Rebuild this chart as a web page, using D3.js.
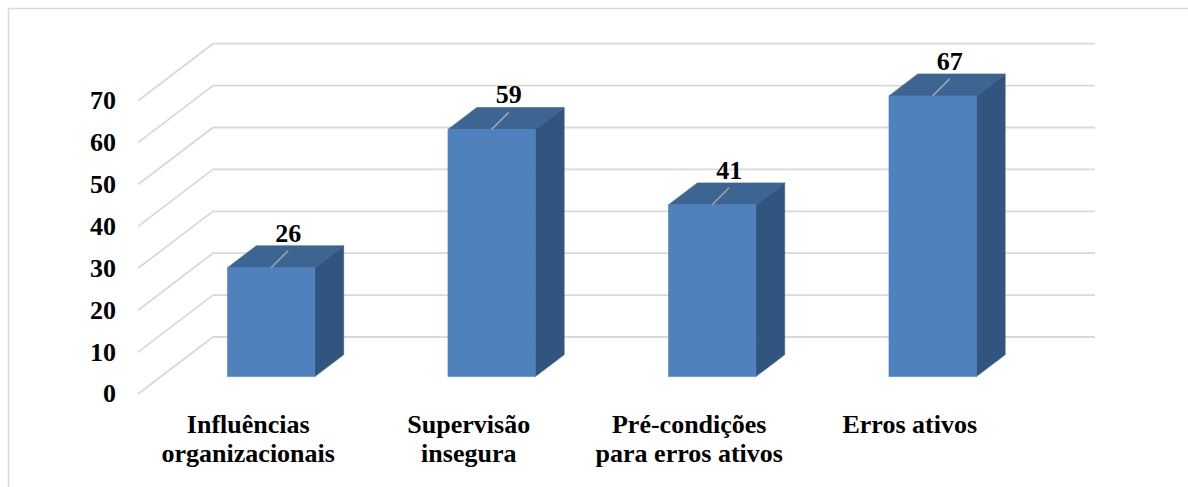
<!DOCTYPE html>
<html>
<head>
<meta charset="utf-8">
<script src="https://cdnjs.cloudflare.com/ajax/libs/d3/7.8.5/d3.min.js"></script>
<style>
  body { margin: 0; background: #fff; }
  text { font-family: "Liberation Serif", "Times New Roman", serif; font-weight: bold; fill: #000; }
</style>
</head>
<body>
<script>
// data
var categories = [["Influências", "organizacionais"], ["Supervisão", "insegura"], ["Pré-condições", "para erros ativos"], ["Erros ativos"]];
var values = [26, 59, 41, 67];
var yTicks = [0, 10, 20, 30, 40, 50, 60, 70];

var width = 1188, height = 487;

// depth offset of the 3D box (back wall vs. front edge)
var depthX = 75, depthY = -57;
var barZ0 = 0.305, barZ1 = 0.69;

var svg = d3.select("body").append("svg")
    .attr("width", width)
    .attr("height", height);

// outer frame
svg.append("rect")
    .attr("x", 8.5).attr("y", 8.5)
    .attr("width", width + 20).attr("height", height + 20)
    .attr("fill", "none")
    .attr("stroke", "#d9d9d9")
    .attr("stroke-width", 1.5);

var keys = categories.map(function(d) { return d.join(" "); });

var x = d3.scaleBand()
    .domain(keys)
    .range([138, 1020]);

var y = d3.scaleLinear()
    .domain([0, 70])
    .range([394, 100.7]);

function proj(px, v, z) {
    return [px + z * depthX, y(v) + z * depthY];
}

// gridlines: diagonal on the side wall, then along the back wall
var grid = svg.append("g");
yTicks.forEach(function(t) {
    var a = proj(x.range()[0], t, 0),
        b = proj(x.range()[0], t, 1),
        c = proj(x.range()[1], t, 1);
    grid.append("polyline")
        .attr("points", [a, b, c].map(function(p) { return p.join(","); }).join(" "))
        .attr("fill", "none")
        .attr("stroke", "#d9d9d9")
        .attr("stroke-width", 1.8);
});

// y axis labels
svg.append("g").selectAll("text")
    .data(yTicks)
    .enter().append("text")
    .attr("x", 116)
    .attr("y", function(d) { return y(d) + 2.5; })
    .attr("text-anchor", "end")
    .attr("dominant-baseline", "middle")
    .style("font-size", "26px")
    .text(function(d) { return d; });

// bars
var bw = x.bandwidth() * 0.396;
var bars = svg.append("g");
values.forEach(function(v, i) {
    var cx = x(keys[i]) + x.bandwidth() / 2;
    var l = cx - bw / 2, r = cx + bw / 2;
    var fbl = proj(l, 0, barZ0), fbr = proj(r, 0, barZ0),
        ftl = proj(l, v, barZ0), ftr = proj(r, v, barZ0),
        btl = proj(l, v, barZ1), btr = proj(r, v, barZ1),
        bbr = proj(r, 0, barZ1);

    function poly(pts, fill) {
        bars.append("polygon")
            .attr("points", pts.map(function(p) { return p.join(","); }).join(" "))
            .attr("fill", fill)
            .attr("stroke", fill)
            .attr("stroke-width", 0.6);
    }
    poly([ftr, btr, bbr, fbr], "#325580");
    poly([ftl, btl, btr, ftr], "#3c6592");
    poly([fbl, ftl, ftr, fbr], "#4f81bd");

    // value label with leader line
    var top = proj(cx, v, barZ0);
    bars.append("line")
        .attr("x1", top[0]).attr("y1", top[1])
        .attr("x2", top[0] + 17).attr("y2", top[1] - 17)
        .attr("stroke", "#a6a6a6")
        .attr("stroke-width", 1.5);
    bars.append("text")
        .attr("x", top[0] + 17)
        .attr("y", top[1] - 26)
        .attr("text-anchor", "middle")
        .style("font-size", "26px")
        .text(v);
});

// category labels
var cat = svg.append("g").selectAll("text")
    .data(categories)
    .enter().append("text")
    .attr("x", function(d, i) { return x(keys[i]) + x.bandwidth() / 2; })
    .attr("y", 433.3)
    .attr("text-anchor", "middle")
    .style("font-size", "26px");

cat.selectAll("tspan")
    .data(function(d) { return d; })
    .enter().append("tspan")
    .attr("x", function() { return d3.select(this.parentNode).attr("x"); })
    .attr("dy", function(d, i) { return i === 0 ? 0 : 28.4; })
    .text(function(d) { return d; });
</script>
</body>
</html>
